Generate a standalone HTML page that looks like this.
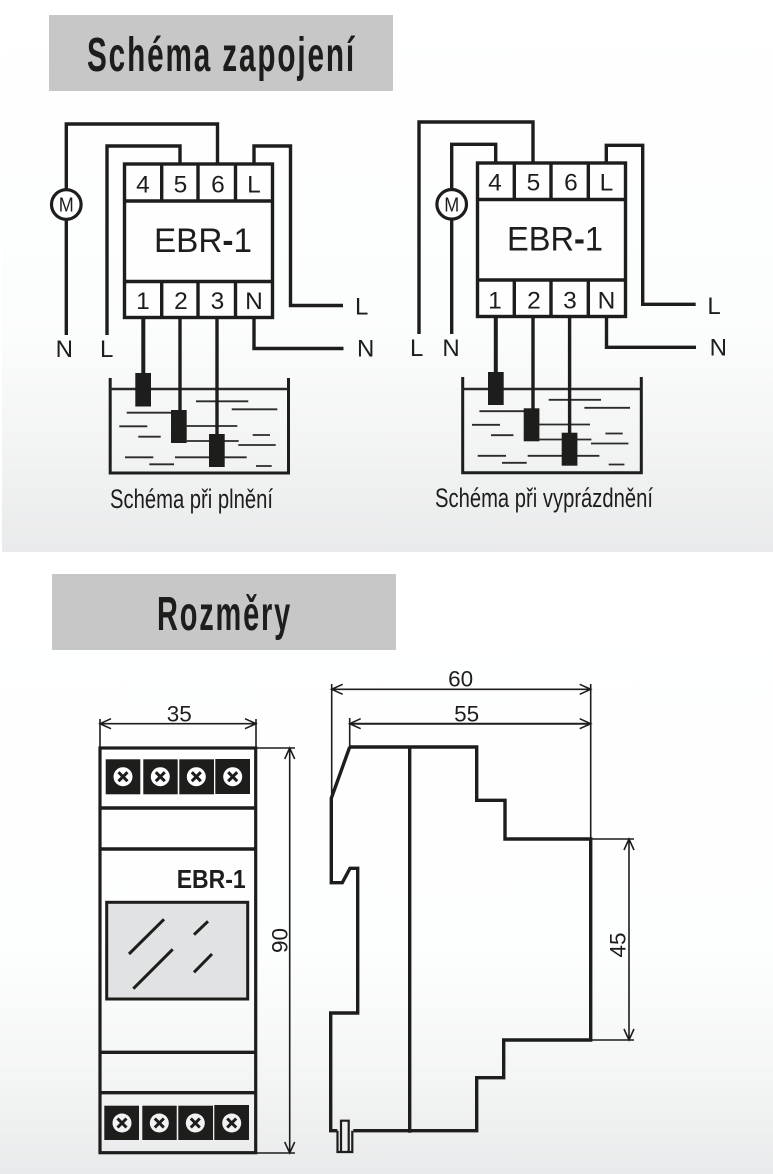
<!DOCTYPE html>
<html>
<head>
<meta charset="utf-8">
<title>Schéma zapojení</title>
<style>
html,body{margin:0;padding:0;background:#fff;width:773px;height:1174px;overflow:hidden}
svg{display:block}
text{font-family:"Liberation Sans",Arial,sans-serif;fill:#1d1d1b}
.w{fill:none;stroke:#1d1d1b;stroke-width:3.4;stroke-linejoin:miter}
.h{fill:none;stroke:#2a2a28;stroke-width:1.8}
.d{fill:none;stroke:#1d1d1b;stroke-width:1.6}
.t{font-size:24.5px;text-anchor:middle}
.l{font-size:24px;text-anchor:middle}
.n{font-size:22.5px;text-anchor:middle}
.cap{font-size:27px}
.hd{font-size:48px;font-weight:700;letter-spacing:3px}
</style>
</head>
<body>
<svg width="773" height="1174" viewBox="0 0 773 1174" xmlns="http://www.w3.org/2000/svg">
<defs>
<linearGradient id="g1" x1="0" y1="0" x2="0" y2="1">
<stop offset="0" stop-color="#ffffff"/><stop offset=".58" stop-color="#fcfdfd"/><stop offset=".78" stop-color="#f4f5f5"/><stop offset="1" stop-color="#e9eaeb"/>
</linearGradient>
<linearGradient id="g2" x1="0" y1="0" x2="0" y2="1">
<stop offset="0" stop-color="#ffffff"/><stop offset=".62" stop-color="#fdfefe"/><stop offset=".82" stop-color="#f5f6f6"/><stop offset="1" stop-color="#e9eaeb"/>
</linearGradient>
<g id="water">
<path class="h" d="M196 401.3H248.3M231.7 409.3H277.3M126.7 412.7H171.7M119.3 426.3H147.3M186.7 426H237.3M138.3 436.7H160.7M252.7 435H270M186.7 441H238.7M238.3 445H275.7M125 457.3H153.3M175 457.3H246.7M149.3 464.3H174M256 466H271.7"/>
</g>
</defs>
<rect x="2" y="0" width="771" height="552" fill="url(#g1)"/>
<rect x="0" y="573" width="773" height="601" fill="url(#g2)"/>

<rect x="49" y="15" width="344" height="76" fill="#c6c7c6"/>
<text class="hd" x="87" y="71" textLength="269" lengthAdjust="spacingAndGlyphs">Schéma zapojení</text>
<rect x="52" y="574" width="344" height="76" fill="#c6c7c6"/>
<text class="hd" x="157" y="630" textLength="135" lengthAdjust="spacingAndGlyphs">Rozměry</text>

<!-- left schematic -->
<path class="w" d="M66.3 335V124H217.5V164"/>
<path class="w" d="M107 335V146H180V164"/>
<path class="w" d="M254 164V146H290.5V305.5H343"/>
<path class="w" d="M254 318V348.5H343.5"/>
<circle cx="66.3" cy="204.5" r="14.8" fill="#fff" stroke="#1d1d1b" stroke-width="3.2"/>
<text x="66.3" y="211.5" font-size="20" text-anchor="middle" textLength="15" lengthAdjust="spacingAndGlyphs">M</text>
<rect x="124.5" y="164" width="148" height="153.5" fill="#fefefe" stroke="#1d1d1b" stroke-width="3.4"/>
<path class="w" d="M124.5 201H272.5M124.5 281.5H272.5M161.7 164V201M198 164V201M235.5 164V201M161.7 281.5V317.5M198 281.5V317.5M235.5 281.5V317.5"/>
<text class="t" x="143" y="192.7">4</text><text class="t" x="180.5" y="192.7">5</text><text class="t" x="218" y="192.7">6</text><text class="t" x="254" y="192.7">L</text>
<text x="154" y="252" font-size="34" textLength="98" lengthAdjust="spacingAndGlyphs">EBR<tspan font-weight="700">-</tspan>1</text>
<text class="t" x="143" y="309">1</text><text class="t" x="181" y="309">2</text><text class="t" x="217.5" y="309">3</text><text class="t" x="254" y="309">N</text>
<text class="l" x="64.3" y="357">N</text><text class="l" x="106.7" y="357">L</text>
<text class="l" x="361.7" y="314.5">L</text><text class="l" x="365.7" y="356.5">N</text>

<path fill="none" stroke="#1d1d1b" stroke-width="3" d="M110.2 378V473H288.5V378"/>
<path fill="none" stroke="#2a2a28" stroke-width="2.4" d="M110 389H288"/>
<use href="#water"/>
<path fill="none" stroke="#1d1d1b" stroke-width="4" d="M143.3 318V375"/>
<path fill="none" stroke="#1d1d1b" stroke-width="3.4" d="M180 318V412M217 318V436"/>
<rect x="135.3" y="373" width="15.7" height="33.5" fill="#1d1d1b"/>
<rect x="171" y="410" width="15.7" height="33" fill="#1d1d1b"/>
<rect x="209" y="434" width="15.7" height="33" fill="#1d1d1b"/>
<text class="cap" x="110" y="508" textLength="163" lengthAdjust="spacingAndGlyphs">Schéma při plnění</text>

<!-- right schematic -->
<path class="w" d="M419 334V122H533V163"/>
<path class="w" d="M451.7 334V144.3H495.7V163"/>
<path class="w" d="M606.3 163V145.3H642.7V304.3H695.7"/>
<path class="w" d="M606.5 317V347.3H696"/>
<circle cx="451.7" cy="204.3" r="14.8" fill="#fff" stroke="#1d1d1b" stroke-width="3.2"/>
<text x="451.7" y="211.3" font-size="20" text-anchor="middle" textLength="15" lengthAdjust="spacingAndGlyphs">M</text>
<rect x="477.5" y="163" width="148" height="153.5" fill="#fefefe" stroke="#1d1d1b" stroke-width="3.4"/>
<path class="w" d="M477.5 199.5H625.5M477.5 280H625.5M514.3 163V199.5M551 163V199.5M588.3 163V199.5M514.3 280V316.5M551 280V316.5M588.3 280V316.5"/>
<text class="t" x="495" y="190.7">4</text><text class="t" x="533.5" y="190.7">5</text><text class="t" x="571" y="190.7">6</text><text class="t" x="606.5" y="190.7">L</text>
<text x="507" y="250.7" font-size="34" textLength="96" lengthAdjust="spacingAndGlyphs">EBR<tspan font-weight="700">-</tspan>1</text>
<text class="t" x="495" y="308.3">1</text><text class="t" x="534" y="308.3">2</text><text class="t" x="570" y="308.3">3</text><text class="t" x="606.5" y="308.3">N</text>
<text class="l" x="416.7" y="356">L</text><text class="l" x="451" y="356">N</text>
<text class="l" x="714" y="313.8">L</text><text class="l" x="718.3" y="355.5">N</text>

<path fill="none" stroke="#1d1d1b" stroke-width="3" d="M462.7 377V472.7H641.3V377"/>
<path fill="none" stroke="#2a2a28" stroke-width="2.4" d="M462.7 389H641"/>
<use href="#water" transform="translate(352.7,-1.5)"/>
<path fill="none" stroke="#1d1d1b" stroke-width="4" d="M495.8 317V374"/>
<path fill="none" stroke="#1d1d1b" stroke-width="3.4" d="M533 317V410M569.6 317V434"/>
<rect x="488" y="372" width="15.7" height="33" fill="#1d1d1b"/>
<rect x="523.7" y="408.3" width="15.7" height="33" fill="#1d1d1b"/>
<rect x="561.7" y="432.7" width="15.7" height="33" fill="#1d1d1b"/>
<text class="cap" x="435" y="507" textLength="218" lengthAdjust="spacingAndGlyphs">Schéma při vyprázdnění</text>

<!-- front view -->
<rect x="100" y="748" width="155.7" height="404.7" fill="none" stroke="#1d1d1b" stroke-width="3.2"/>
<path class="w" d="M100 808H255.7M100 849H255.7M100 1052.3H255.7M100 1092.7H255.7"/>
<g fill="#1d1d1b">
<rect x="105.7" y="759.3" width="34.6" height="35"/><rect x="143.3" y="759.3" width="34.4" height="35"/><rect x="179.3" y="759.3" width="34.7" height="35"/><rect x="215.3" y="759" width="34.7" height="35"/>
<rect x="104.3" y="1105.7" width="34.7" height="34.3"/><rect x="142.3" y="1105.7" width="34.4" height="34.3"/><rect x="178.3" y="1105.7" width="34.7" height="34.3"/><rect x="214.3" y="1105" width="34.7" height="35"/>
</g>
<g fill="#fff" stroke="none">
<circle cx="123" cy="776.7" r="9.5"/><circle cx="160.3" cy="776.7" r="9.5"/><circle cx="196.3" cy="776.7" r="9.5"/><circle cx="232.7" cy="776.7" r="9.5"/>
</g>
<g fill="#f1f2f2" stroke="none">
<circle cx="122" cy="1123" r="9.5"/><circle cx="159.3" cy="1123" r="9.5"/><circle cx="195.3" cy="1123" r="9.5"/><circle cx="231.7" cy="1123" r="9.5"/>
</g>
<path fill="none" stroke="#1d1d1b" stroke-width="3" d="M118.5 772.2l9 9M127.5 772.2l-9 9M155.8 772.2l9 9M164.8 772.2l-9 9M191.8 772.2l9 9M200.8 772.2l-9 9M228.2 772.2l9 9M237.2 772.2l-9 9M117.5 1118.5l9 9M126.5 1118.5l-9 9M154.8 1118.5l9 9M163.8 1118.5l-9 9M190.8 1118.5l9 9M199.8 1118.5l-9 9M227.2 1118.5l9 9M236.2 1118.5l-9 9"/>
<text x="176.7" y="888" font-size="26" font-weight="700" textLength="69" lengthAdjust="spacingAndGlyphs">EBR-1</text>
<rect x="106.7" y="902.3" width="141" height="96.7" fill="#e1e2e3" stroke="#1d1d1b" stroke-width="3"/>
<path fill="none" stroke="#1d1d1b" stroke-width="3" d="M164 919.3L129 954M208 921.3L194 934.7M172.7 949.3L133.3 988.7M212 954L194 972.3"/>

<!-- dim 35 -->
<path class="d" d="M100 719V748M256 719V748M100 723.7H256M111 718.7L100 723.7L111 728.7M245 718.7L256 723.7L245 728.7"/>
<text class="n" x="179.3" y="721.7">35</text>
<!-- dim 90 -->
<path class="d" d="M256 748H295M256 1153H295M289.7 748V1153M284.7 759L289.7 748L294.7 759M284.7 1142L289.7 1153L294.7 1142"/>
<text class="n" transform="translate(287.3,940.5) rotate(-90)" x="0" y="0">90</text>

<!-- side view -->
<path class="w" d="M349.7 747H476.7V800.3H505V839H590.7V1040H503.7V1077.7H476.7V1130.7H353.3"/>
<path class="w" d="M337.3 1130.7H330.7V1013H357.7V868.3H350L342.3 882.7H331.3V798.3L349.7 747"/>
<path class="w" d="M409.7 747V1132.7"/>
<path fill="none" stroke="#1d1d1b" stroke-width="2.2" d="M337.5 1130.7V1152H352.3V1130.7M341 1152V1120.7H348.7V1152"/>
<!-- dim 60 / 55 -->
<path class="d" d="M331.7 684V798M590.7 684V839M331.7 689.3H590.7M342.7 684.3L331.7 689.3L342.7 694.3M579.7 684.3L590.7 689.3L579.7 694.3"/>
<text class="n" x="460.7" y="686.7">60</text>
<path class="d" d="M349.7 718V747M360.7 718.7L349.7 723.7L360.7 728.7M579.7 718.7L590.7 723.7L579.7 728.7"/>
<path fill="none" stroke="#1d1d1b" stroke-width="2" d="M349.7 723.7H590.7"/>
<text class="n" x="466.7" y="721.7">55</text>
<!-- dim 45 -->
<path class="d" d="M590.7 839H634M590.7 1040H634M629 839V1040M624 850L629 839L634 850M624 1029L629 1040L634 1029"/>
<text class="n" transform="translate(625.7,945) rotate(-90)" x="0" y="0">45</text>
</svg>
</body>
</html>
